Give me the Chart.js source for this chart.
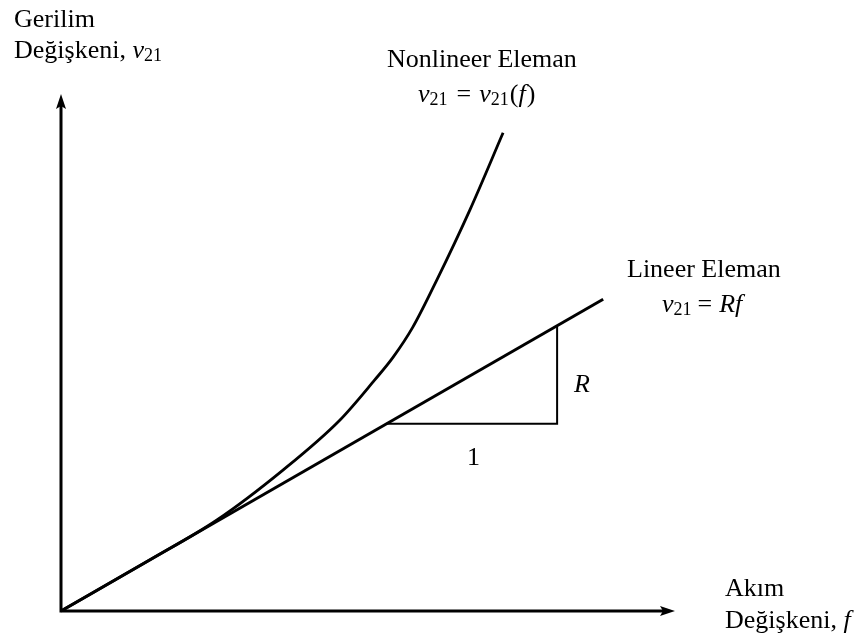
<!DOCTYPE html>
<html>
<head>
<meta charset="utf-8">
<title>Gerilim - Akım</title>
<script src="https://cdn.jsdelivr.net/npm/chart.js@4/dist/chart.umd.min.js"></script>
<style>
  html, body { margin: 0; padding: 0; background: #fff; }
  canvas { display: block; }
</style>
</head>
<body>
<canvas id="chart" width="861" height="635"></canvas>
<script>
// lineer eleman: v21 = R f
const linF = [0, 8.83];
const linV = [0, 6.03];

// nonlineer eleman: v21 = v21(f)
const curveF = [0, 1.45, 2.54, 3.62, 4.54, 5.11, 5.41, 5.73, 6.12, 6.66, 7.20];
const curveV = [0, 0.99, 1.76, 2.73, 3.69, 4.47, 4.91, 5.49, 6.40, 7.76, 9.25];

// eğim üçgeni (1 birim yatay, R birim dikey)
const triF = [5.30, 8.08, 8.08];
const triV = [3.62, 3.62, 5.52];

const pts = (xs, ys) => xs.map((x, i) => ({ x, y: ys[i] }));

const SERIF = '"Liberation Serif", "Times New Roman", serif';

// metin parçaları: düz, italik, alt indis
function drawRuns(ctx, x, y, runs){
  let cx = x;
  runs.forEach(r => {
    const size = r.sub ? 18 : 26;
    ctx.font = (r.it ? 'italic ' : '') + size + 'px ' + SERIF;
    ctx.fillText(r.t, cx, y + (r.sub ? 3 : 0));
    cx += ctx.measureText(r.t).width + (r.pad || 0);
  });
}

const axesAndLabels = {
  id: 'axesAndLabels',
  afterDatasetsDraw(chart){
    const ctx = chart.ctx;
    const { left, right, top, bottom } = chart.chartArea;
    ctx.save();
    ctx.strokeStyle = '#000';
    ctx.fillStyle = '#000';
    ctx.lineWidth = 3;
    ctx.lineCap = 'butt';
    // eksenler
    ctx.beginPath();
    ctx.moveTo(left, top + 10); ctx.lineTo(left, bottom);
    ctx.lineTo(right - 10, bottom);
    ctx.stroke();
    // ok başları
    ctx.beginPath();
    ctx.moveTo(left, top);
    ctx.lineTo(left - 5, top + 15);
    ctx.lineTo(left, top + 12);
    ctx.lineTo(left + 5, top + 15);
    ctx.closePath();
    ctx.fill();
    ctx.beginPath();
    ctx.moveTo(right, bottom);
    ctx.lineTo(right - 15, bottom - 5);
    ctx.lineTo(right - 12, bottom);
    ctx.lineTo(right - 15, bottom + 5);
    ctx.closePath();
    ctx.fill();

    ctx.textBaseline = 'alphabetic';
    ctx.textAlign = 'left';
    drawRuns(ctx, 14, 27, [{ t: 'Gerilim' }]);
    drawRuns(ctx, 14, 58, [{ t: 'Değişkeni, ' }, { t: 'v', it: true }, { t: '21', sub: true }]);

    drawRuns(ctx, 387, 67, [{ t: 'Nonlineer Eleman' }]);
    drawRuns(ctx, 418, 102, [{ t: 'v', it: true }, { t: '21', sub: true, pad: 9 }, { t: '=', pad: 8 }, { t: 'v', it: true }, { t: '21', sub: true, pad: 1 }, { t: '(' }, { t: 'f', it: true, pad: 1 }, { t: ')' }]);

    drawRuns(ctx, 627, 277, [{ t: 'Lineer Eleman' }]);
    drawRuns(ctx, 662, 312, [{ t: 'v', it: true }, { t: '21', sub: true, pad: 6 }, { t: '=', pad: 7 }, { t: 'Rf', it: true }]);

    drawRuns(ctx, 574, 392, [{ t: 'R', it: true }]);
    drawRuns(ctx, 467, 465, [{ t: '1' }]);

    drawRuns(ctx, 725, 596, [{ t: 'Akım' }]);
    drawRuns(ctx, 725, 628, [{ t: 'Değişkeni, ' }, { t: 'f', it: true }]);
    ctx.restore();
  }
};

new Chart(document.getElementById('chart'), {
  type: 'scatter',
  data: {
    datasets: [
      {
        label: 'Lineer Eleman',
        data: pts(linF, linV),
        showLine: true,
        borderColor: '#000',
        borderWidth: 3,
        pointRadius: 0,
        clip: false
      },
      {
        label: 'Nonlineer Eleman',
        data: pts(curveF, curveV),
        showLine: true,
        borderColor: '#000',
        borderWidth: 2.8,
        cubicInterpolationMode: 'monotone',
        pointRadius: 0,
        clip: false
      },
      {
        label: 'Eğim',
        data: pts(triF, triV),
        showLine: true,
        borderColor: '#000',
        borderWidth: 2,
        pointRadius: 0,
        clip: false
      }
    ]
  },
  options: {
    responsive: false,
    animation: false,
    devicePixelRatio: 1,
    layout: { padding: { left: 61, right: 186, top: 94, bottom: 24 } },
    plugins: { legend: { display: false }, tooltip: { enabled: false } },
    scales: {
      x: { type: 'linear', min: 0, max: 10, display: false },
      y: { type: 'linear', min: 0, max: 10, display: false }
    }
  },
  plugins: [axesAndLabels]
});
</script>
</body>
</html>
